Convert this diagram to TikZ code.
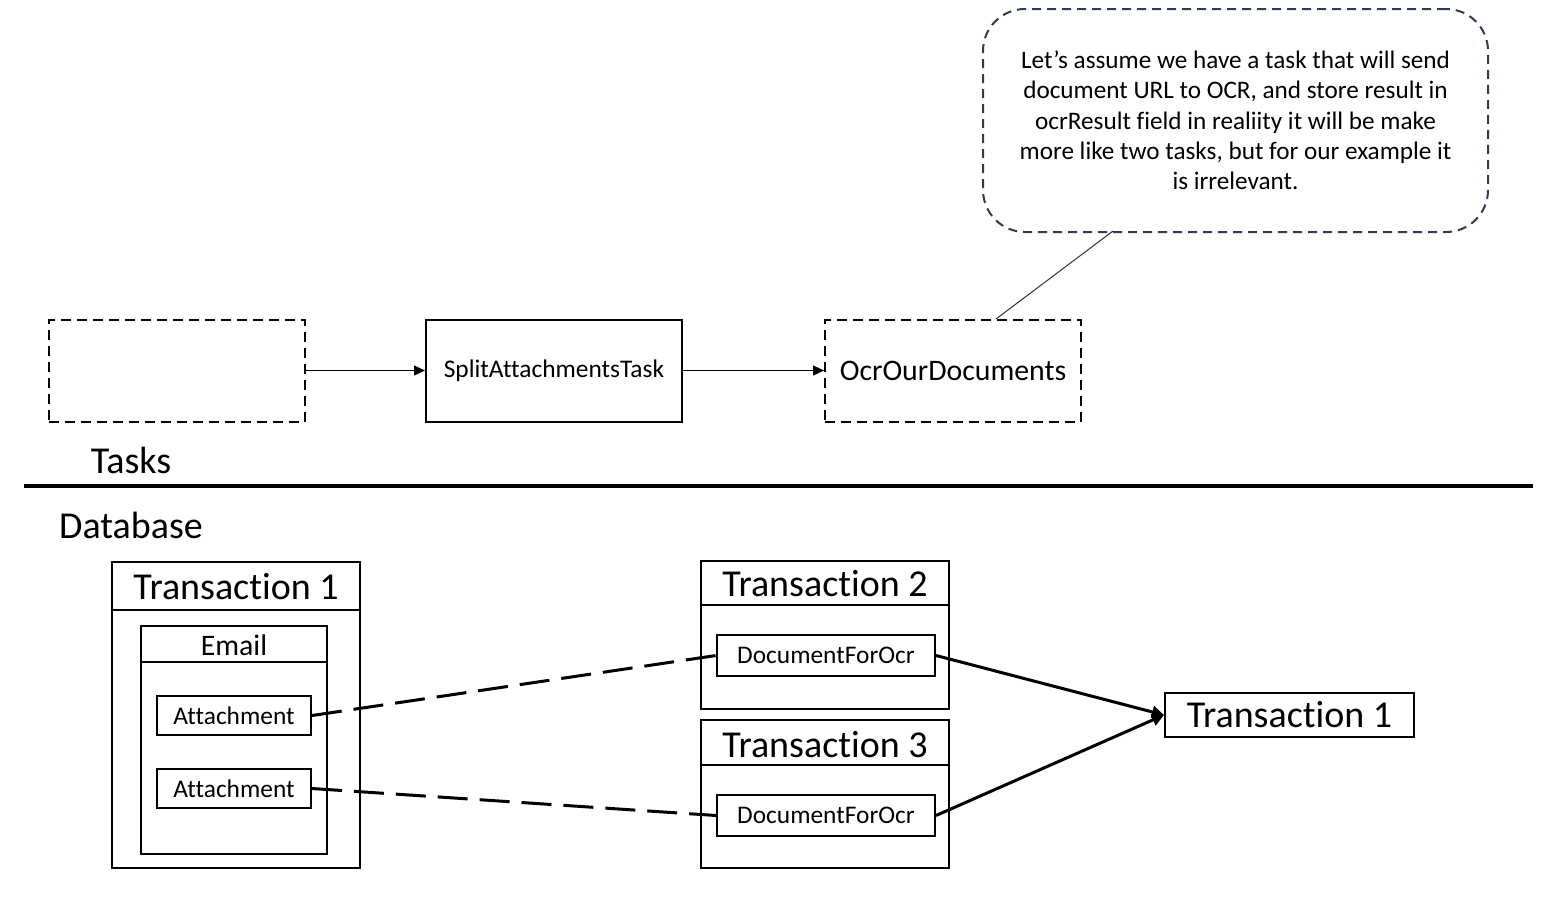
\documentclass[tikz,border=0pt]{standalone}
\usepackage{fontspec}
\setmainfont[Ligatures=NoCommon]{Carlito}
\usetikzlibrary{arrows.meta}
\definecolor{navy}{HTML}{2E3B56}
\begin{document}
\begin{tikzpicture}[x=1pt,y=-1pt,
  box/.style={draw=black,line width=2pt,inner sep=0pt,anchor=center},
  dbox/.style={box,dash pattern=on 10pt off 6pt},
  thinarrow/.style={line width=1.2pt,-{Triangle[length=11pt,width=10pt]}},
  thickarrow/.style={line width=3pt,-{Triangle[length=12pt,width=12pt]}},
  linkdash/.style={line width=3pt,dash pattern=on 30pt off 12pt},
  big/.style={font=\fontsize{38}{45}\selectfont},
  mid/.style={font=\fontsize{29.8}{36}\selectfont},
  small/.style={font=\fontsize{25.4}{30}\selectfont}
]
\useasboundingbox (0,0) rectangle (1549,919);
\fill[white] (0,0) rectangle (1549,919);

% Tasks row
\node[dbox,minimum width=256pt,minimum height=102pt] (empty) at (177,370.5) {};
\node[box,small,minimum width=256pt,minimum height=102pt] (split) at (554,370.5) {SplitAttachmentsTask};
\node[dbox,mid,minimum width=256pt,minimum height=102pt] (ocr) at (953,370.5) {OcrOurDocuments};
\draw[thinarrow] (empty.east) -- (split.west);
\draw[thinarrow] (split.east) -- (ocr.west);

% Callout
\node[draw=navy,line width=2pt,dash pattern=on 9pt off 6pt,rounded corners=42pt,
  minimum width=505pt,minimum height=223pt,inner sep=0pt,align=center,
  font=\fontsize{25.2}{30.3}\selectfont] (note) at (1235.5,120.5)
  {Let’s assume we have a task that will send\\document URL to OCR, and store result in\\ocrResult field in realiity it will be make\\more like two tasks, but for our example it\\is irrelevant.};
\coordinate (notetail) at (1113,231);
\coordinate (ocrtop) at (996,319);
\draw[line width=1pt,black!80] (notetail) -- (ocrtop);

% Labels and separator
\node[big] (tasks) at (131,460) {Tasks};
\node[big] (database) at (131,525) {Database};
\coordinate (sepL) at (24,486);
\coordinate (sepR) at (1533,486);
\draw[line width=4pt] (sepL) -- (sepR);

% Transaction 1 (left)
\node[box,minimum width=248pt,minimum height=306pt] (t1) at (236,715) {};
\draw[line width=2pt] (112,610) -- (360,610);
\node[big] (t1label) at (236,587) {Transaction 1};
\node[box,minimum width=186pt,minimum height=228pt] (email) at (234,740) {};
\draw[line width=2pt] (141,662) -- (327,662);
\node[mid] (emaillabel) at (234,645) {Email};
\node[box,small,minimum width=154pt,minimum height=39pt] (att1) at (234,715.5) {Attachment};
\node[box,small,minimum width=154pt,minimum height=39pt] (att2) at (234,788.5) {Attachment};

% Transaction 2
\node[box,minimum width=248pt,minimum height=148pt] (t2) at (825,635) {};
\draw[line width=2pt] (701,605) -- (949,605);
\node[big] (t2label) at (825,584) {Transaction 2};
\node[box,small,minimum width=218pt,minimum height=41pt] (doc1) at (826,655.5) {DocumentForOcr};

% Transaction 3
\node[box,minimum width=248pt,minimum height=148pt] (t3) at (825,794) {};
\draw[line width=2pt] (701,765) -- (949,765);
\node[big] (t3label) at (825,745) {Transaction 3};
\node[box,small,minimum width=218pt,minimum height=41pt] (doc2) at (826,815.5) {DocumentForOcr};

% Transaction 1 (right)
\node[box,big,minimum width=249pt,minimum height=44pt] (t1r) at (1289.5,715) {Transaction 1};

% Connectors
\draw[linkdash] (att1.east) -- (doc1.west);
\draw[linkdash] (att2.east) -- (doc2.west);
\draw[thickarrow] (doc1.east) -- (t1r.west);
\draw[thickarrow] (doc2.east) -- (t1r.west);
\end{tikzpicture}
\end{document}
